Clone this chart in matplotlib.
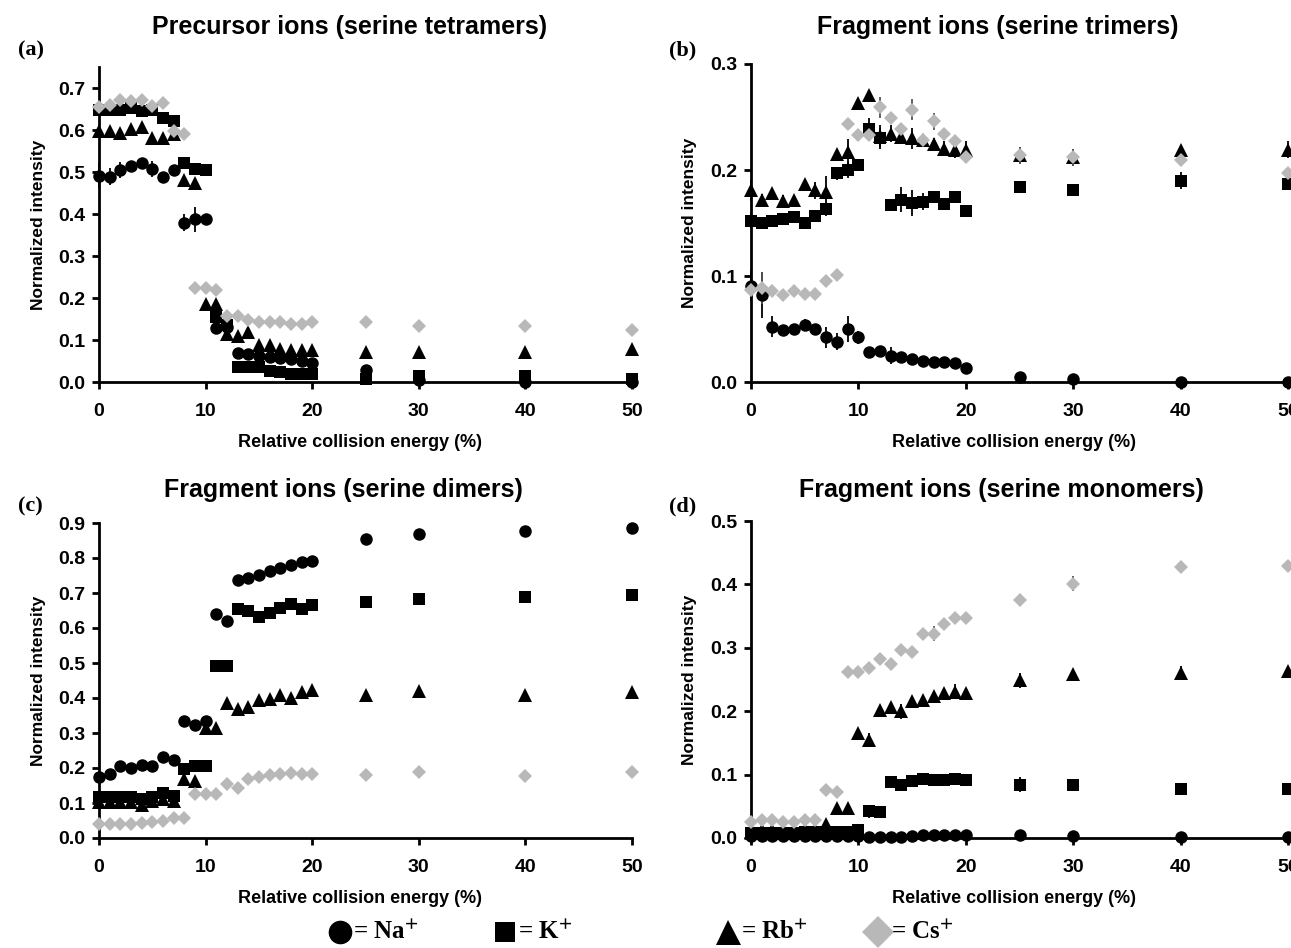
import numpy as np
import matplotlib
matplotlib.use('Agg')
import matplotlib.pyplot as plt
from matplotlib.lines import Line2D

plt.rcParams['font.family'] = ['Liberation Sans Narrow', 'Liberation Sans', 'DejaVu Sans']
plt.rcParams['font.weight'] = 'bold'
plt.rcParams['mathtext.fontset'] = 'stix'

# 相对碰撞能量 (%)
energy = [0, 1, 2, 3, 4, 5, 6, 7, 8, 9, 10, 11, 12, 13, 14, 15, 16, 17, 18, 19, 20, 25, 30, 40, 50]

# (a) 前体离子 (丝氨酸四聚体)
a_na = [0.491, 0.489, 0.505, 0.515, 0.521, 0.507, 0.489, 0.505, 0.379, 0.387, 0.388, 0.128, 0.130,
        0.069, 0.067, 0.063, 0.060, 0.058, 0.055, 0.050, 0.045, 0.028, 0.004, 0.000, 0.000]
a_k = [0.648, 0.648, 0.648, 0.652, 0.645, 0.648, 0.628, 0.622, 0.521, 0.507, 0.505, 0.155, 0.135,
       0.035, 0.035, 0.035, 0.027, 0.025, 0.018, 0.020, 0.020, 0.008, 0.015, 0.015, 0.007]
a_rb = [0.597, 0.597, 0.594, 0.603, 0.607, 0.580, 0.580, 0.590, 0.481, 0.474, 0.185, 0.185, 0.114,
        0.110, 0.120, 0.088, 0.088, 0.078, 0.077, 0.077, 0.077, 0.072, 0.072, 0.072, 0.078]
a_cs = [0.655, 0.660, 0.672, 0.668, 0.672, 0.658, 0.664, 0.598, 0.590, 0.224, 0.224, 0.220, 0.158,
        0.158, 0.148, 0.143, 0.143, 0.143, 0.138, 0.138, 0.143, 0.143, 0.133, 0.133, 0.125]
a_na_err = [0.030, 0.020, 0.020, 0.010, 0.010, 0.020, 0.010, 0.010, 0.020, 0.030, 0.010, 0.010, 0.010,
            0.005, 0.005, 0.005, 0.005, 0.005, 0.005, 0.005, 0.005, 0.005, 0.004, 0.003, 0.003]
a_k_err = [0.005, 0.005, 0.005, 0.005, 0.015, 0.008, 0.005, 0.005, 0.005, 0.005, 0.005, 0.005, 0.008,
           0.005, 0.005, 0.005, 0.005, 0.005, 0.005, 0.005, 0.005, 0.003, 0.003, 0.003, 0.003]
a_rb_err = [0.005] * 25
a_cs_err = [0.004] * 25

# (b) 碎片离子 (丝氨酸三聚体)
b_na = [0.091, 0.082, 0.052, 0.049, 0.050, 0.054, 0.050, 0.042, 0.038, 0.050, 0.042, 0.028, 0.029,
        0.025, 0.024, 0.022, 0.020, 0.019, 0.019, 0.018, 0.013, 0.005, 0.003, 0.000, 0.000]
b_k = [0.152, 0.150, 0.152, 0.154, 0.156, 0.150, 0.157, 0.163, 0.197, 0.200, 0.205, 0.239, 0.230,
       0.167, 0.172, 0.169, 0.170, 0.175, 0.168, 0.175, 0.161, 0.184, 0.181, 0.190, 0.187]
b_rb = [0.181, 0.172, 0.178, 0.171, 0.172, 0.187, 0.181, 0.179, 0.215, 0.217, 0.263, 0.271, 0.232,
        0.234, 0.231, 0.230, 0.228, 0.225, 0.220, 0.219, 0.219, 0.214, 0.212, 0.219, 0.219]
b_cs = [0.087, 0.089, 0.086, 0.082, 0.086, 0.083, 0.083, 0.095, 0.101, 0.243, 0.233, 0.233, 0.259,
        0.249, 0.239, 0.257, 0.228, 0.246, 0.234, 0.227, 0.212, 0.214, 0.212, 0.209, 0.197]
b_na_err = [0.015, 0.022, 0.010, 0.005, 0.005, 0.005, 0.005, 0.010, 0.008, 0.012, 0.006, 0.003, 0.003,
            0.008, 0.003, 0.003, 0.003, 0.003, 0.003, 0.003, 0.003, 0.003, 0.002, 0.001, 0.001]
b_k_err = [0.008, 0.003, 0.003, 0.003, 0.003, 0.003, 0.003, 0.006, 0.006, 0.008, 0.003, 0.010, 0.010,
           0.003, 0.012, 0.012, 0.008, 0.003, 0.003, 0.005, 0.003, 0.003, 0.003, 0.008, 0.005]
b_rb_err = [0.010, 0.005, 0.005, 0.005, 0.003, 0.003, 0.008, 0.015, 0.005, 0.012, 0.003, 0.003, 0.010,
            0.008, 0.005, 0.010, 0.005, 0.005, 0.007, 0.008, 0.008, 0.008, 0.008, 0.005, 0.008]
b_cs_err = [0.005, 0.015, 0.005, 0.005, 0.005, 0.005, 0.005, 0.003, 0.003, 0.005, 0.005, 0.005, 0.010,
            0.005, 0.005, 0.010, 0.005, 0.008, 0.005, 0.005, 0.005, 0.008, 0.008, 0.003, 0.003]

# (c) 碎片离子 (丝氨酸二聚体)
c_na = [0.174, 0.184, 0.205, 0.200, 0.210, 0.205, 0.231, 0.224, 0.335, 0.323, 0.335, 0.639, 0.620,
        0.738, 0.743, 0.752, 0.764, 0.771, 0.780, 0.790, 0.792, 0.853, 0.870, 0.877, 0.887]
c_k = [0.118, 0.118, 0.118, 0.118, 0.111, 0.118, 0.130, 0.120, 0.196, 0.207, 0.207, 0.491, 0.491,
       0.653, 0.648, 0.632, 0.644, 0.658, 0.670, 0.653, 0.667, 0.674, 0.683, 0.689, 0.693]
c_rb = [0.102, 0.102, 0.102, 0.102, 0.095, 0.106, 0.111, 0.105, 0.168, 0.163, 0.314, 0.314, 0.385,
        0.368, 0.375, 0.394, 0.397, 0.408, 0.399, 0.416, 0.422, 0.410, 0.419, 0.410, 0.416]
c_cs = [0.041, 0.041, 0.041, 0.041, 0.042, 0.045, 0.048, 0.057, 0.057, 0.125, 0.125, 0.127, 0.155,
        0.142, 0.168, 0.174, 0.180, 0.184, 0.187, 0.184, 0.182, 0.179, 0.189, 0.177, 0.189]
c_na_err = [0.008, 0.008, 0.005, 0.005, 0.005, 0.005, 0.005, 0.008, 0.005, 0.008, 0.008, 0.015, 0.005,
            0.005, 0.010, 0.008, 0.008, 0.008, 0.008, 0.010, 0.005, 0.005, 0.008, 0.005, 0.005]
c_k_err = [0.008] * 25
c_rb_err = [0.008, 0.008, 0.008, 0.008, 0.008, 0.008, 0.010, 0.010, 0.008, 0.008, 0.008, 0.008, 0.005,
            0.005, 0.008, 0.015, 0.005, 0.005, 0.008, 0.015, 0.005, 0.010, 0.005, 0.005, 0.005]
c_cs_err = [0.003, 0.003, 0.003, 0.003, 0.003, 0.003, 0.003, 0.003, 0.003, 0.008, 0.003, 0.010, 0.008,
            0.003, 0.008, 0.003, 0.005, 0.008, 0.008, 0.008, 0.003, 0.005, 0.005, 0.008, 0.005]

# (d) 碎片离子 (丝氨酸单体)
d_na = [0.003, 0.003, 0.003, 0.003, 0.003, 0.003, 0.003, 0.003, 0.003, 0.003, 0.003, 0.002, 0.002,
        0.002, 0.002, 0.003, 0.004, 0.004, 0.004, 0.004, 0.004, 0.005, 0.003, 0.002, 0.001]
d_k = [0.008, 0.008, 0.008, 0.008, 0.008, 0.010, 0.010, 0.010, 0.010, 0.010, 0.012, 0.042, 0.041,
       0.088, 0.083, 0.090, 0.093, 0.092, 0.092, 0.093, 0.092, 0.084, 0.083, 0.077, 0.077]
d_rb = [0.010, 0.012, 0.012, 0.010, 0.010, 0.012, 0.012, 0.022, 0.048, 0.048, 0.165, 0.155, 0.202,
        0.207, 0.200, 0.216, 0.218, 0.224, 0.229, 0.231, 0.229, 0.249, 0.259, 0.261, 0.263]
d_cs = [0.026, 0.029, 0.029, 0.026, 0.026, 0.029, 0.029, 0.076, 0.072, 0.262, 0.262, 0.268, 0.282,
        0.274, 0.297, 0.294, 0.322, 0.322, 0.338, 0.347, 0.347, 0.376, 0.401, 0.427, 0.429]
d_na_err = [0.005] * 25
d_k_err = [0.005, 0.005, 0.005, 0.005, 0.005, 0.005, 0.005, 0.005, 0.005, 0.005, 0.005, 0.010, 0.003,
           0.003, 0.008, 0.005, 0.005, 0.005, 0.005, 0.010, 0.005, 0.012, 0.003, 0.008, 0.008]
d_rb_err = [0.005, 0.005, 0.005, 0.005, 0.005, 0.005, 0.005, 0.005, 0.003, 0.003, 0.003, 0.010, 0.003,
            0.003, 0.012, 0.005, 0.008, 0.008, 0.008, 0.012, 0.003, 0.012, 0.005, 0.010, 0.005]
d_cs_err = [0.003, 0.003, 0.003, 0.003, 0.003, 0.003, 0.003, 0.003, 0.005, 0.003, 0.008, 0.003, 0.003,
            0.008, 0.008, 0.008, 0.008, 0.012, 0.005, 0.003, 0.005, 0.005, 0.012, 0.008, 0.005]

titles = ['Precursor ions (serine tetramers)', 'Fragment ions (serine trimers)',
          'Fragment ions (serine dimers)', 'Fragment ions (serine monomers)']
panel_tags = ['(a)', '(b)', '(c)', '(d)']
ion_labels = ['Na', 'K', 'Rb', 'Cs']
y_tops = [0.75, 0.3, 0.9, 0.5]
y_ticks = [np.arange(0, 0.71, 0.1), np.arange(0, 0.31, 0.1), np.arange(0, 0.91, 0.1), np.arange(0, 0.51, 0.1)]

panels = [
    (a_na, a_k, a_rb, a_cs, a_na_err, a_k_err, a_rb_err, a_cs_err),
    (b_na, b_k, b_rb, b_cs, b_na_err, b_k_err, b_rb_err, b_cs_err),
    (c_na, c_k, c_rb, c_cs, c_na_err, c_k_err, c_rb_err, c_cs_err),
    (d_na, d_k, d_rb, d_cs, d_na_err, d_k_err, d_rb_err, d_cs_err),
]

GREY = '#b8b8b8'
styles = [
    dict(marker='o', color='black', ms=9),
    dict(marker='s', color='black', ms=8.5),
    dict(marker='^', color='black', ms=9.5),
    dict(marker='D', color=GREY, ms=7.5),
]

W, H = 1291, 948
fig = plt.figure(figsize=(W / 100, H / 100), dpi=100)

# 坐标轴位置 (像素)
ax_rects = [
    (99, 632, 382, 67),
    (751, 1288, 382, 64),
    (99, 632, 838, 523),
    (751, 1288, 838, 521),
]

for i, (x0, x1, yb, yt) in enumerate(ax_rects):
    ax = fig.add_axes([x0 / W, 1 - yb / H, (x1 - x0) / W, (yb - yt) / H])
    series = panels[i][:4]
    errs = panels[i][4:]
    for vals, err, st in zip(series, errs, styles):
        ecol = 'black' if st['color'] == 'black' else '#555555'
        ax.errorbar(energy, vals, yerr=err, fmt=st['marker'], color=st['color'],
                    markersize=st['ms'], markeredgewidth=0, ecolor=ecol,
                    elinewidth=1.3, capsize=3.5, capthick=1.5, clip_on=False, zorder=3)
    ax.set_xlim(0, 50)
    ax.set_ylim(0, y_tops[i])
    ax.set_xticks([0, 10, 20, 30, 40, 50])
    ax.set_yticks(y_ticks[i])
    ax.set_yticklabels([f'{v:.1f}' for v in y_ticks[i]])
    for side in ['top', 'right']:
        ax.spines[side].set_visible(False)
    for side in ['left', 'bottom']:
        ax.spines[side].set_linewidth(2)
        ax.spines[side].set_zorder(2)
    ax.tick_params(axis='both', direction='out', length=5, width=2, labelsize=14, pad=5)
    ax.tick_params(axis='x', pad=10)
    for lab in ax.get_xticklabels() + ax.get_yticklabels():
        lab.set_fontweight('bold')
    ax.set_ylabel('Normalized intensity', fontsize=12.5, fontweight='bold')
    ax.yaxis.set_label_coords(-0.10, 0.5)
    ax.set_xlabel('Relative collision energy (%)', fontsize=13, fontweight='bold')
    ax.xaxis.set_label_coords(0.49, -0.165)

# 标题和面板编号
title_pos = [(350, 27), (998, 27), (343, 490), (1001, 490)]
tag_pos = [(31, 50), (683, 50), (30, 506), (683, 506)]
for t, (tx, ty), tag, (gx, gy) in zip(titles, title_pos, panel_tags, tag_pos):
    fig.text(tx / W, 1 - ty / H, t, ha='center', va='center', fontsize=18, fontweight='bold')
    fig.text(gx / W, 1 - gy / H, tag, ha='center', va='center', fontsize=16, fontweight='bold',
             family=['Liberation Serif', 'DejaVu Serif'])

# 底部图例
legend_x = [340, 505, 728, 878]
legend_ms = [17, 15, 18, 16]
for st, lbl, lx, ms in zip(styles, ion_labels, legend_x, legend_ms):
    fig.add_artist(Line2D([lx / W], [1 - 932 / H], transform=fig.transFigure,
                          marker=st['marker'], color=st['color'], markersize=ms,
                          markeredgewidth=0, linestyle='none'))
    fig.text((lx + 13) / W, 1 - 932 / H, '= ' + lbl + r'$^{\mathbf{+}}$', ha='left', va='center',
             fontsize=18, fontweight='bold', family=['Liberation Serif', 'DejaVu Serif'])

fig.savefig('out.png', dpi=100)
